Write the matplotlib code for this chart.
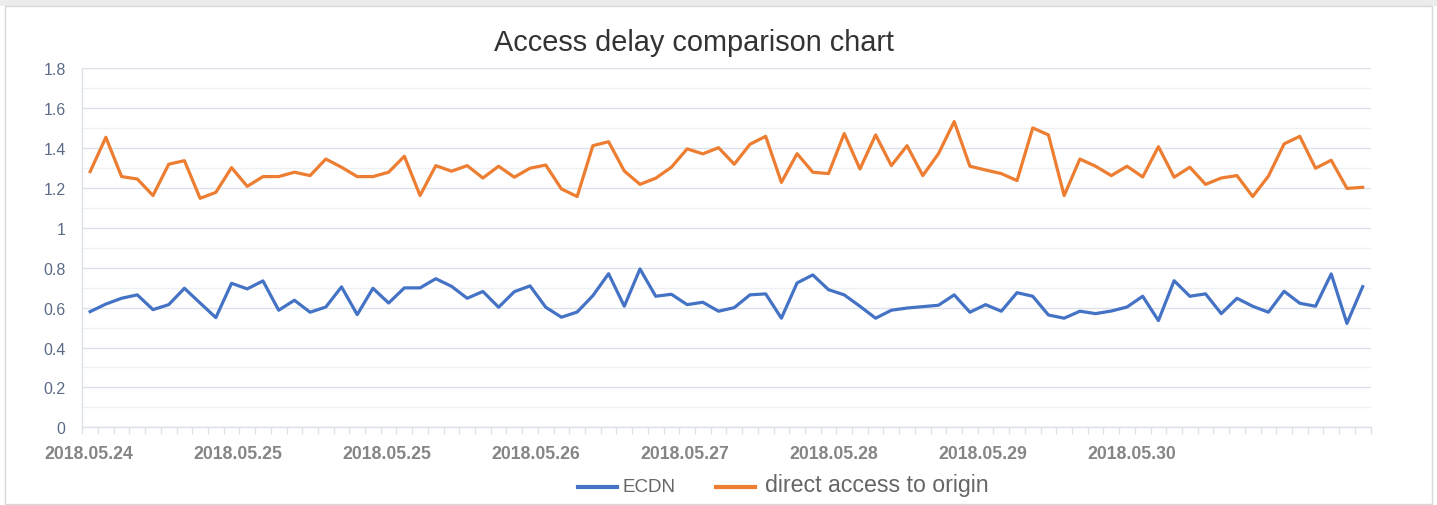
import numpy as np
import matplotlib
matplotlib.use("Agg")
import matplotlib.pyplot as plt
from matplotlib.patches import Rectangle
from matplotlib.ticker import MultipleLocator, FixedLocator, NullFormatter

# values, 82 samples per series
ecdn = [0.580, 0.618, 0.647, 0.664, 0.590, 0.615, 0.697, 0.623, 0.550, 0.722,
        0.694, 0.734, 0.587, 0.637, 0.577, 0.603, 0.704, 0.565, 0.697, 0.623,
        0.699, 0.699, 0.745, 0.707, 0.647, 0.681, 0.602, 0.680, 0.709, 0.602,
        0.552, 0.578, 0.660, 0.770, 0.607, 0.794, 0.657, 0.667, 0.615, 0.627,
        0.582, 0.600, 0.664, 0.669, 0.547, 0.724, 0.764, 0.690, 0.664, 0.607,
        0.547, 0.587, 0.598, 0.605, 0.612, 0.664, 0.577, 0.615, 0.582, 0.675,
        0.657, 0.563, 0.547, 0.582, 0.570, 0.583, 0.603, 0.657, 0.535, 0.735,
        0.657, 0.669, 0.570, 0.647, 0.607, 0.577, 0.682, 0.622, 0.607, 0.769,
        0.521, 0.705]
origin = [1.282, 1.454, 1.257, 1.245, 1.162, 1.319, 1.337, 1.148, 1.178, 1.302,
          1.208, 1.257, 1.257, 1.279, 1.262, 1.345, 1.304, 1.257, 1.257, 1.279,
          1.359, 1.162, 1.312, 1.284, 1.312, 1.250, 1.309, 1.254, 1.299, 1.315,
          1.195, 1.157, 1.412, 1.432, 1.285, 1.218, 1.249, 1.304, 1.396, 1.371,
          1.402, 1.319, 1.419, 1.459, 1.228, 1.372, 1.279, 1.272, 1.473, 1.295,
          1.466, 1.312, 1.412, 1.262, 1.372, 1.533, 1.309, 1.290, 1.272, 1.237,
          1.501, 1.466, 1.162, 1.345, 1.309, 1.262, 1.309, 1.255, 1.407, 1.254,
          1.304, 1.218, 1.250, 1.262, 1.157, 1.259, 1.421, 1.459, 1.299, 1.339,
          1.198, 1.203]
date_labels = ["2018.05.24", "2018.05.25", "2018.05.25", "2018.05.26",
               "2018.05.27", "2018.05.28", "2018.05.29", "2018.05.30"]
series_names = ["ECDN", "direct access to origin"]

BLUE = "#4472C4"
ORANGE = "#ED7D31"
GRID_MAJOR = "#dde2ea"
GRID_MINOR = "#eef0f4"

plt.rcParams['font.family'] = ['Liberation Sans', 'DejaVu Sans']

fig = plt.figure(figsize=(14.37, 5.06), dpi=100)
fig.patch.set_facecolor("white")

# grey strip at the very top, then the card frame around the chart
fig.patches.append(Rectangle((0, 1 - 7 / 506), 1, 7 / 506, transform=fig.transFigure,
                             facecolor="#ececec", edgecolor="none"))
fig.patches.append(Rectangle((5 / 1437, 1 / 506), 1427 / 1437, 498 / 506,
                             transform=fig.transFigure, fill=False,
                             edgecolor="#d8d8d8", lw=1.0))

ax = fig.add_axes([82.3 / 1437, 1 - 428.3 / 506, (1370.5 - 82.3) / 1437, (428.3 - 69.3) / 506])

x = np.arange(len(ecdn))
ax.plot(x, ecdn, color=BLUE, lw=2.3, solid_joinstyle="round", zorder=3)
ax.plot(x, origin, color=ORANGE, lw=2.3, solid_joinstyle="round", zorder=3)

ax.set_xlim(-0.5, len(ecdn) - 0.5)
ax.set_ylim(0, 1.8)

# y axis: major every 0.2 with labels, minor gridlines every 0.1
ax.yaxis.set_minor_locator(MultipleLocator(0.1))
ax.set_yticks(np.arange(0, 1.81, 0.2))
ax.set_yticklabels(["0", "0.2", "0.4", "0.6", "0.8", "1", "1.2", "1.4", "1.6", "1.8"])
ax.grid(axis="y", which="major", color=GRID_MAJOR, lw=1.0, zorder=0)
ax.grid(axis="y", which="minor", color=GRID_MINOR, lw=1.0, zorder=0)
ax.tick_params(axis="y", which="both", length=0, pad=12, labelsize=11.5, labelcolor="#5b6b86")

# x axis: tick marks between categories, date labels spaced as in the reference
label_step = 9.49
label_pos = -0.1 + label_step * np.arange(len(date_labels))
ax.xaxis.set_minor_locator(FixedLocator(np.arange(-0.5, len(ecdn), 1.0)))
ax.xaxis.set_minor_formatter(NullFormatter())
ax.set_xticks(label_pos)
ax.set_xticklabels(date_labels, fontweight="bold")
ax.tick_params(axis="x", which="major", length=0, pad=13, labelsize=12.7, labelcolor="#858585")
ax.tick_params(axis="x", which="minor", length=5, width=1.0, color=GRID_MAJOR, direction="out")

for side in ["top", "right"]:
    ax.spines[side].set_visible(False)
for side in ["left", "bottom"]:
    ax.spines[side].set_color(GRID_MAJOR)
    ax.spines[side].set_linewidth(1.0)

fig.text(694 / 1437, 1 - 43 / 506, "Access delay comparison chart", ha="center", va="center",
         fontsize=20.8, color="#333333")

# legend drawn by hand so the two labels can differ in size like the reference
ly = 1 - 488 / 506
fig.add_artist(plt.Line2D([578 / 1437, 617 / 1437], [ly, ly], color=BLUE, lw=3.0,
                          transform=fig.transFigure))
fig.text(623 / 1437, ly, series_names[0], ha="left", va="center", fontsize=13.5, color="#666666")
fig.add_artist(plt.Line2D([716 / 1437, 755 / 1437], [ly, ly], color=ORANGE, lw=3.0,
                          transform=fig.transFigure))
fig.text(765 / 1437, ly + 0.004, series_names[1], ha="left", va="center", fontsize=16.7, color="#666666")

fig.savefig("out.png", dpi=100, facecolor="white")
